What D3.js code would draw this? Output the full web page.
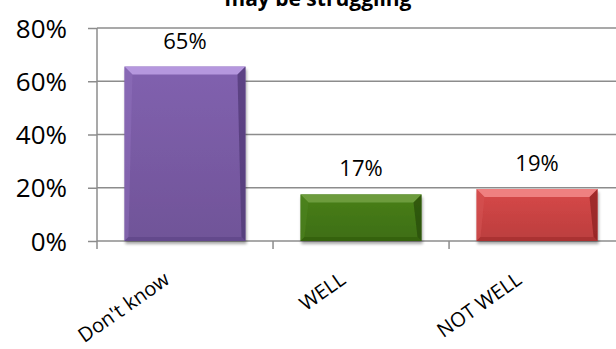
<!DOCTYPE html>
<html><head><meta charset="utf-8">
<script src="https://cdn.jsdelivr.net/npm/d3@7"></script>
<style>html,body{margin:0;padding:0;background:#fff;overflow:hidden}svg{display:block}</style>
</head><body>
<svg id="c" width="616" height="349"></svg>
<script>
const titleText = "may be struggling";
const categories = ["Don't know", "WELL", "NOT WELL"];
const values = [0.655, 0.175, 0.195];
const yTicks = [0, 0.2, 0.4, 0.6, 0.8];
const barColors = [
  {face:"#7a5ca6", top:"#b597de", left:"#8f70bc", right:"#4d3672", bottom:"#5a4283"},
  {face:"#447816", top:"#6d9c3e", left:"#4f8520", right:"#274a08", bottom:"#2f5a0b"},
  {face:"#cc4444", top:"#ef8080", left:"#d65656", right:"#8a2020", bottom:"#9e2a2a"}
];

(function () {
const svg = d3.select("#c");
const font = "'Open Sans', sans-serif";
const pL = 97, pR = 625, pT = 28, pB = 241;

const x = d3.scaleBand().domain(categories).range([pL, pR]).paddingInner(0.3125).paddingOuter(0.156);
const y = d3.scaleLinear().domain([0, 0.8]).range([pB, pT]);

const defs = svg.append("defs");
barColors.forEach((c, i) => {
  const g = defs.append("linearGradient").attr("id", "g" + i).attr("x1", 0).attr("y1", 0).attr("x2", 0).attr("y2", 1);
  g.append("stop").attr("offset", "0%").attr("stop-color", d3.color(c.face).brighter(0.15));
  g.append("stop").attr("offset", "100%").attr("stop-color", d3.color(c.face).darker(0.25));
});
const f = defs.append("filter").attr("id", "sh").attr("x", "-10%").attr("y", "-10%").attr("width", "130%").attr("height", "130%");
f.append("feGaussianBlur").attr("in", "SourceAlpha").attr("stdDeviation", 1.8);
f.append("feOffset").attr("dx", 1).attr("dy", 2.5).attr("result", "b");
f.append("feComponentTransfer").append("feFuncA").attr("type", "linear").attr("slope", 0.35);
const m = f.append("feMerge"); m.append("feMergeNode"); m.append("feMergeNode").attr("in", "SourceGraphic");

svg.append("g").selectAll("line").data(yTicks.filter(d => d > 0)).join("line")
  .attr("x1", pL).attr("x2", 616).attr("y1", d => y(d)).attr("y2", d => y(d))
  .attr("stroke", "#8c8c8c").attr("stroke-width", 1.5);

const ya = svg.append("g").attr("transform", `translate(${pL},0)`)
  .call(d3.axisLeft(y).tickValues(yTicks).tickFormat(d3.format(".0%")).tickSize(9).tickPadding(21));
ya.select(".domain").attr("stroke", "#8c8c8c").attr("stroke-width", 1.5).attr("d", `M0,${pT}V${pB}`);
ya.selectAll(".tick line").attr("stroke", "#8c8c8c").attr("stroke-width", 1.5);
ya.selectAll(".tick text").attr("font-family", font).attr("font-size", 26).attr("fill", "#000").attr("dy", "0.35em");

svg.append("line").attr("x1", pL).attr("x2", 616).attr("y1", pB).attr("y2", pB)
  .attr("stroke", "#8c8c8c").attr("stroke-width", 1.5);
const bounds = categories.map((c, i) => pL + i * x.step()).concat([pR]);
svg.append("g").selectAll("line").data(bounds).join("line")
  .attr("x1", d => d).attr("x2", d => d).attr("y1", pB).attr("y2", pB + 8)
  .attr("stroke", "#8c8c8c").attr("stroke-width", 1.5);

const bw = x.bandwidth();
const bev = 8;
const bars = svg.append("g").selectAll("g").data(values).join("g").attr("filter", "url(#sh)");
bars.each(function(v, i) {
  const g = d3.select(this);
  const x0 = x(categories[i]), x1 = x0 + bw, y0 = y(v), y1 = y(0);
  const c = barColors[i];
  const b = Math.min(bev, (y1 - y0) / 2.5);
  const s = 4;
  g.append("rect").attr("x", x0).attr("y", y0).attr("width", bw).attr("height", y1 - y0).attr("fill", `url(#g${i})`);
  const poly = pts => g.append("polygon").attr("points", pts.map(p => p.join(",")).join(" "));
  poly([[x0, y0], [x1, y0], [x1 - b, y0 + b], [x0 + b, y0 + b]]).attr("fill", c.top);
  poly([[x0, y0], [x0 + b, y0 + b], [x0 + s, y1 - s], [x0, y1]]).attr("fill", c.left).attr("opacity", 0.5);
  poly([[x1, y0], [x1, y1], [x1 - s, y1 - s], [x1 - b, y0 + b]]).attr("fill", c.right).attr("opacity", 0.7);
  poly([[x0, y1], [x0 + s, y1 - s], [x1 - s, y1 - s], [x1, y1]]).attr("fill", c.bottom).attr("opacity", 0.6);
});

svg.append("g").selectAll("text").data(values).join("text")
  .attr("x", (d, i) => x(categories[i]) + bw / 2).attr("y", d => y(d) - 18)
  .attr("text-anchor", "middle").attr("font-family", font).attr("font-size", 22).attr("fill", "#000")
  .text(d => d3.format(".0%")(Math.floor(d * 100) / 100));

svg.append("g").selectAll("text").data(categories).join("text")
  .attr("transform", d => `translate(${x(d) + bw / 2 - 22},${pB + 30}) rotate(-35)`)
  .attr("text-anchor", "end").attr("dy", "0.7em")
  .attr("font-family", font).attr("font-size", 20).attr("fill", "#000")
  .text(d => d);

svg.append("text").attr("x", 318).attr("y", 6).attr("text-anchor", "middle")
  .attr("font-family", font).attr("font-weight", "bold").attr("font-size", 21).attr("fill", "#000")
  .text(titleText);
})();
</script>
</body></html>
